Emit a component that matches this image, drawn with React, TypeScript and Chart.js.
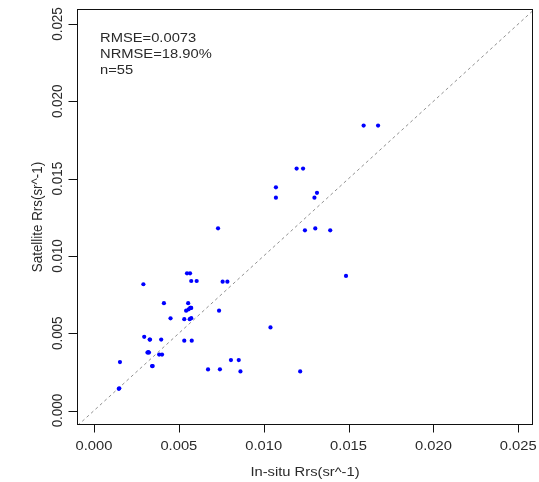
import React, { useEffect, useRef } from "react";
import { Chart, registerables } from "chart.js";

Chart.register(...registerables);

// Matchup Rrs: in-situ (x) vs satellite (y), sr^-1
const insitu = [
  0.01589, 0.01674, 0.01194, 0.01232, 0.01072, 0.01072, 0.01314, 0.01299, 0.00731, 0.01243,
  0.01304, 0.01392, 0.01485, 0.0104, 0.01215, 0.00758, 0.00786, 0.00737, 0.00548, 0.00566,
  0.00573, 0.00605, 0.00291, 0.00412, 0.00555, 0.00543, 0.00567, 0.00573, 0.00451, 0.00532,
  0.00564, 0.00573, 0.00296, 0.0033, 0.00396, 0.00532, 0.00576, 0.00315, 0.00324, 0.00384,
  0.00401, 0.00153, 0.00342, 0.00346, 0.00672, 0.00742, 0.00807, 0.00853, 0.00863, 0.00149,
  0.00146, 0.00328, 0.00558, 0.0032, 0.0057,
];
const satellite = [
  0.01843, 0.01843, 0.01565, 0.01565, 0.01444, 0.01377, 0.01408, 0.01377, 0.01179, 0.01166,
  0.01178, 0.01166, 0.00871, 0.00538, 0.00253, 0.00834, 0.00834, 0.00646, 0.00888, 0.00888,
  0.00838, 0.00838, 0.00817, 0.00695, 0.00695, 0.00646, 0.00664, 0.00664, 0.00597, 0.00591,
  0.00591, 0.00598, 0.00477, 0.00459, 0.00459, 0.00452, 0.00452, 0.00375, 0.00375, 0.00362,
  0.00362, 0.00314, 0.00288, 0.00288, 0.00266, 0.00267, 0.00327, 0.00327, 0.00253, 0.00144,
  0.00141, 0.00459, 0.00655, 0.00378, 0.00664,
];

// 1:1 reference line end points
const oneToOne = [-0.002, 0.027];

const tickValues = [0, 0.005, 0.01, 0.015, 0.02, 0.025];
const tickLabels = ["0.000", "0.005", "0.010", "0.015", "0.020", "0.025"];

const xTitle = "In-situ Rrs(sr^-1)";
const yTitle = "Satellite Rrs(sr^-1)";
const statsLines = ["RMSE=0.0073", "NRMSE=18.90%", "n=55"];

const FONT = '13.4px "Liberation Sans", Arial, sans-serif';
const TEXT_COLOR = "#2a2a2a";
const STRETCH = 1.1;

function drawText(
  ctx: CanvasRenderingContext2D,
  text: string,
  x: number,
  y: number,
  align: CanvasTextAlign,
  vertical = false
) {
  ctx.save();
  ctx.translate(x, y);
  ctx.scale(STRETCH, 1);
  if (vertical) ctx.rotate(-Math.PI / 2);
  ctx.font = FONT;
  ctx.fillStyle = TEXT_COLOR;
  ctx.textAlign = align;
  ctx.textBaseline = "middle";
  ctx.fillText(text, 0, 0);
  ctx.restore();
}

// Box, ticks, tick labels, axis titles and stats text in base-graphics style
const frame = {
  id: "frame",
  afterDatasetsDraw(chart: any) {
    const { ctx, chartArea } = chart;
    const xs = chart.scales.x;
    const ys = chart.scales.y;
    const { left, right, top, bottom } = chartArea;
    ctx.save();
    ctx.strokeStyle = "#111";
    ctx.lineWidth = 1;
    ctx.strokeRect(left, top, right - left, bottom - top);

    ctx.beginPath();
    tickValues.forEach((v) => {
      const px = Math.round(xs.getPixelForValue(v)) + 0.5;
      ctx.moveTo(px, bottom);
      ctx.lineTo(px, bottom + 8);
      const py = Math.round(ys.getPixelForValue(v)) + 0.5;
      ctx.moveTo(left, py);
      ctx.lineTo(left - 9, py);
    });
    ctx.stroke();
    ctx.restore();

    tickValues.forEach((v, i) => {
      drawText(ctx, tickLabels[i], xs.getPixelForValue(v), 446, "center");
      drawText(ctx, tickLabels[i], 57.5, ys.getPixelForValue(v), "center", true);
    });

    drawText(ctx, xTitle, (left + right) / 2, 472, "center");
    drawText(ctx, yTitle, 38, (top + bottom) / 2, "center", true);

    statsLines.forEach((line, i) => {
      drawText(ctx, line, 100, 38.5 + i * 16, "left");
    });
  },
};

export default function App() {
  const canvasRef = useRef<HTMLCanvasElement | null>(null);

  useEffect(() => {
    if (!canvasRef.current) return;
    const points = insitu.map((x, i) => ({ x, y: satellite[i] }));
    const chart = new Chart(canvasRef.current, {
      type: "scatter",
      data: {
        datasets: [
          {
            data: points,
            backgroundColor: "#0000ff",
            borderColor: "#0000ff",
            borderWidth: 0,
            pointRadius: 2.1,
            pointHoverRadius: 2.1,
          },
          {
            type: "line",
            data: oneToOne.map((v) => ({ x: v, y: v })),
            borderColor: "rgba(70,70,70,0.6)",
            borderWidth: 1,
            borderDash: [3, 3],
            pointRadius: 0,
            showLine: true,
            fill: false,
          } as any,
        ],
      },
      options: {
        responsive: false,
        animation: false,
        events: [],
        layout: { padding: { left: 77.5, right: 6.5, top: 9.5, bottom: 57.5 } },
        plugins: {
          legend: { display: false },
          tooltip: { enabled: false },
        },
        scales: {
          x: { type: "linear", display: false, min: -0.000972, max: 0.02584 },
          y: { type: "linear", display: false, min: -0.000899, max: 0.025938 },
        },
      },
      plugins: [frame],
    });
    return () => chart.destroy();
  }, []);

  return (
    <div style={{ position: "fixed", left: 0, top: 0, width: 539, height: 482, background: "#fff" }}>
      <canvas ref={canvasRef} width={539} height={482} />
    </div>
  );
}
